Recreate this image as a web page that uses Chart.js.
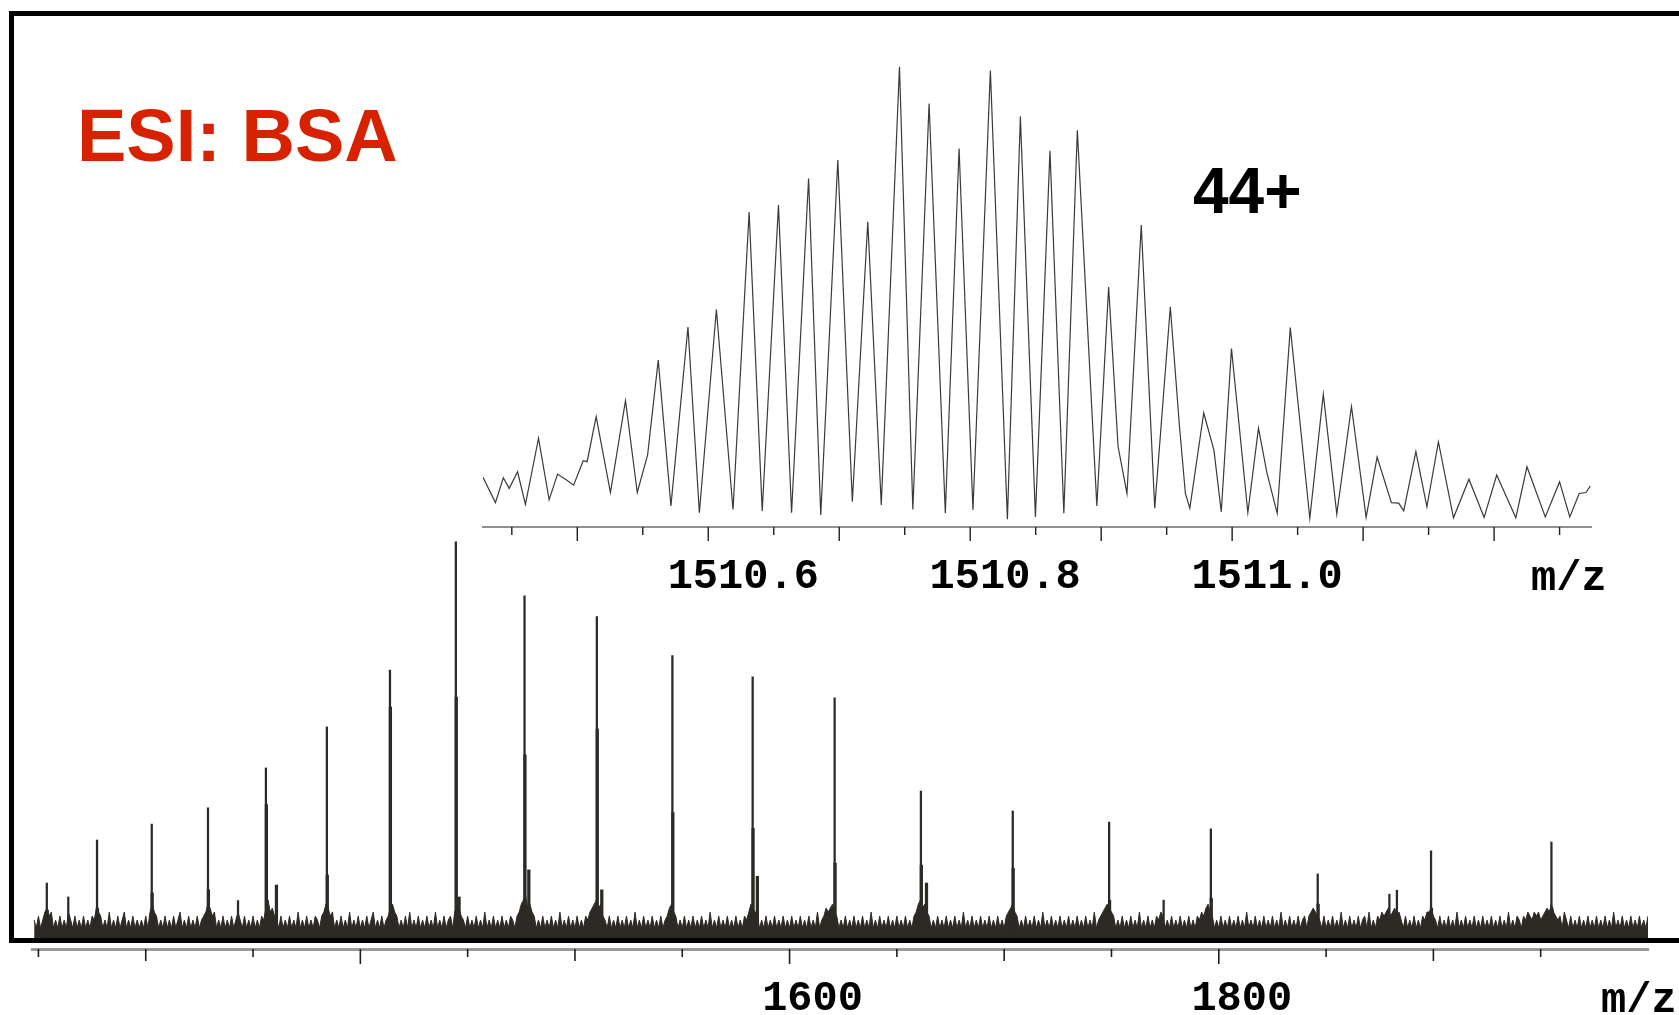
<!DOCTYPE html>
<html>
<head>
<meta charset="utf-8">
<title>ESI: BSA</title>
<script src="https://cdn.jsdelivr.net/npm/chart.js@4.4.1/dist/chart.umd.min.js"></script>
<style>
  html, body { margin: 0; padding: 0; background: #fff; overflow: hidden; }
  #page { position: relative; width: 1679px; height: 1015px; overflow: hidden; }
  .layer { position: absolute; left: 0; top: 0; width: 1679px; height: 1015px; }
  #frame {
    position: absolute; left: 9px; top: 11px; width: 1720px; height: 932px;
    box-sizing: border-box; border: 5px solid #000; pointer-events: none;
  }
  .note { position: absolute; white-space: nowrap; font-family: "Liberation Sans", Arial, sans-serif; font-weight: bold; }
  #title { left: 77px; top: 99px; font-size: 74px; line-height: 74px; color: #d72200; }
  #charge { left: 1193px; top: 159px; font-size: 64px; line-height: 64px; color: #000; }
  .mz { position: absolute; font-family: "Liberation Mono", monospace; font-weight: bold; font-size: 42px; line-height: 42px; color: #000; }
  #mzMain { left: 1601px; top: 980px; }
  #mzInset { left: 1531px; top: 558px; }
</style>
</head>
<body>
<div id="page">
  <canvas id="mainChart" class="layer" width="1679" height="1015"></canvas>
  <div id="frame"></div>
  <canvas id="insetChart" class="layer" width="1679" height="1015"></canvas>
  <div class="note" id="title">ESI: BSA</div>
  <div class="note" id="charge">44+</div>
  <div class="mz" id="mzMain">m/z</div>
  <div class="mz" id="mzInset">m/z</div>
</div>

<script>
// Main spectrum - charge state peaks (m/z, % of base peak)
const peakMz = [1253.9, 1263.9, 1277.3, 1302.8, 1329.0, 1343.0, 1356.0, 1384.4, 1413.8, 1444.5,
                1476.5, 1510.2, 1545.4, 1582.8, 1621.0, 1661.2, 1704.0, 1748.9, 1774.3, 1796.3,
                1846.1, 1879.5, 1883.0, 1898.9, 1955.0];
const peakHeight = [14.3, 10.8, 25.1, 29.1, 33.2, 9.9, 43.2, 53.5, 67.8, 100,
                    86.4, 81.2, 71.4, 66.1, 60.8, 37.4, 32.4, 29.6, 10, 27.9,
                    16.6, 11.5, 12.5, 22.4, 24.6];

// thicker lines at the foot of each peak (adducts)
const shoulderMz = [1254.1, 1277.5, 1303.0, 1329.2, 1356.2, 1360.9, 1384.6, 1414.0, 1444.7, 1446.0,
                    1476.7, 1478.5, 1510.4, 1512.5, 1545.6, 1583.0, 1585.0, 1621.2, 1661.4, 1663.8,
                    1704.2, 1749.1, 1796.5, 1846.3, 1899.1, 1955.2];
const shoulderHeight = [7.5, 8, 11.8, 12.6, 34, 13.8, 16.3, 58.5, 61, 10.8,
                        46.5, 17.6, 53, 12.6, 32, 28, 16, 19.3, 18.8, 14.3,
                        18, 10, 10.5, 9, 8, 8];

// Baseline noise, read every 1 m/z from 1248 to 2000 (one row = 50 m/z)
const noiseStart = 1248;
const noiseStep = 1;
const noiseLevel = [
  5,3,6,3,5,7,8,6,7,3, 5,3,6,3,5,3,7,5,3,6, 3,5,3,6,3,5,3,6,5,8, 7,6,3,5,3,7,3,5,3,6, 3,5,7,3,5,3,6,3,5,3,
  5,3,6,3,7,9,7,6,3,5, 3,6,3,5,3,6,3,5,7,3, 5,3,6,3,5,3,6,3,5,6, 7,9,8,6,7,3,5,3,6,3, 5,3,6,3,5,7,5,3,6,3,
  5,3,6,3,5,3,6,5,8,10, 7,8,6,5,3,6,3,5,3,6, 3,5,3,7,3,5,3,6,3,5, 3,6,5,3,6,7,9,8,6,7, 3,5,3,6,3,5,3,7,3,5,
  3,6,3,5,3,6,3,5,7,3, 5,3,6,3,5,6,8,9,7,6, 3,5,3,6,3,7,3,5,3,6, 3,5,3,6,3,5,3,7,3,5, 3,6,3,5,6,3,7,9,8,6,
  5,3,6,3,5,3,6,3,5,3, 7,3,5,3,6,3,5,3,6,3, 5,3,6,5,3,6,7,9,10,11, 8,9,7,6,3,5,3,6,3,5, 3,6,3,5,3,7,3,5,3,6,
  3,5,3,6,3,5,3,6,5,7, 8,9,10,8,9,6,5,3,6,3, 5,3,6,3,5,3,6,3,5,3, 7,3,5,3,6,3,5,3,6,3, 5,3,6,3,5,6,8,9,7,6,
  3,5,3,6,3,5,3,6,3,5, 3,6,3,5,3,7,3,5,3,6, 3,5,3,6,3,5,3,6,3,5, 3,6,5,7,9,8,7,6,3,5, 3,6,3,5,3,6,3,5,3,6,
  3,5,3,6,3,5,3,6,3,5, 3,6,3,5,3,7,3,5,6,8, 7,8,9,7,6,3,5,3,6,3, 5,3,6,3,5,3,6,3,5,3, 7,3,5,3,6,3,5,3,6,3,
  5,3,6,3,5,3,6,3,5,3, 6,7,9,10,8,9,7,6,3,5, 3,6,3,5,3,6,3,5,3,6, 3,5,3,7,3,5,3,6,3,5, 3,6,3,5,3,6,3,5,3,6,
  3,5,3,6,7,8,9,7,6,3, 5,3,6,3,5,3,6,3,5,3, 7,3,5,3,6,3,5,3,6,3, 5,3,6,3,5,3,6,3,5,3, 6,3,5,3,7,3,5,6,7,8,
  9,8,7,6,3,5,3,6,3,5, 3,6,3,5,3,7,3,5,3,6, 3,5,3,6,5,7,6,3,5,3, 6,3,5,3,6,3,5,3,6,3, 5,3,6,5,7,6,8,9,7,6,
  3,5,3,6,3,5,3,6,3,5, 3,6,3,5,3,7,3,5,3,6, 3,5,3,6,3,5,3,6,3,5, 3,7,3,5,3,6,3,5,3,6, 3,5,6,3,6,7,8,7,6,5,
  3,6,3,5,3,6,3,5,3,7, 3,5,3,6,3,5,3,6,3,5, 6,3,7,3,5,3,6,5,7,6, 7,8,6,7,8,6,7,5,3,6, 3,5,3,6,3,5,3,6,5,7,
  7,8,6,5,3,6,3,5,3,6, 3,5,3,7,3,5,3,6,3,5, 3,6,3,5,3,6,3,5,3,6, 3,5,3,6,3,5,3,7,3,5, 3,6,5,3,6,5,7,6,5,7,
  6,7,5,6,7,8,7,9,7,6, 5,6,3,7,5,3,6,3,5,3, 6,3,5,3,6,3,5,3,6,3, 5,3,6,3,5,3,7,3,5,3, 6,3,5,3,6,3,5,3,6,3,
  5,3,6
];

const mainTicks = [1250, 1300, 1350, 1400, 1450, 1500, 1550, 1600, 1650, 1700, 1750, 1800, 1850, 1900, 1950];
const mainLabels = [1600, 1800];

// Inset - isotope envelope of the 44+ ion
const insetMz = [
  1510.428, 1510.4375, 1510.4435, 1510.448, 1510.4544, 1510.4604, 1510.4704, 1510.4785, 1510.4849, 1510.4918,
  1510.4972, 1510.5045, 1510.5075, 1510.5144, 1510.5253, 1510.5368, 1510.5458, 1510.5537, 1510.5618, 1510.5715,
  1510.5845, 1510.5932, 1510.6062, 1510.6189, 1510.6312, 1510.6412, 1510.6536, 1510.6636, 1510.6766, 1510.6859,
  1510.6989, 1510.7100, 1510.7218, 1510.7321, 1510.7460, 1510.7562, 1510.7686, 1510.7810, 1510.7915, 1510.8021,
  1510.8154, 1510.8284, 1510.8383, 1510.8498, 1510.8609, 1510.8715, 1510.8818, 1510.8967, 1510.9057, 1510.9129,
  1510.9197, 1510.9306, 1510.9409, 1510.9528, 1510.9596, 1510.9643, 1510.9677, 1510.9783, 1510.9861, 1510.9917,
  1510.9995, 1511.0120, 1511.0201, 1511.0266, 1511.0344, 1511.0444, 1511.0593, 1511.0696, 1511.0799, 1511.0911,
  1511.1023, 1511.1107, 1511.1216, 1511.1272, 1511.1310, 1511.1403, 1511.1487, 1511.1575, 1511.1690, 1511.1808,
  1511.1924, 1511.2020, 1511.2166, 1511.2251, 1511.2391, 1511.2500, 1511.2578, 1511.2650, 1511.2702, 1511.2734
];
const insetInt = [
  10.8, 5.3, 10.7, 8.4, 12.0, 4.9, 19.3, 5.9, 11.5, 10.2,
  9.1, 14.4, 14.2, 24.0, 7.5, 27.5, 7.5, 15.7, 36.3, 4.6,
  43.5, 3.1, 47.3, 3.8, 68.5, 3.5, 70.0, 3.1, 75.8, 2.6,
  79.8, 5.5, 66.4, 4.8, 100.1, 3.8, 92.1, 3.0, 82.3, 3.7,
  99.3, 1.7, 89.3, 2.2, 81.8, 3.0, 86.3, 4.6, 52.2, 17.5,
  7.3, 65.7, 4.1, 47.9, 22.5, 7.3, 4.1, 24.8, 16.7, 3.3,
  38.8, 3.1, 21.5, 11.7, 3.0, 43.4, 1.9, 28.9, 2.8, 26.2,
  2.1, 15.2, 5.3, 5.2, 3.5, 16.4, 4.4, 18.5, 2.0, 10.4,
  2.1, 11.3, 2.0, 13.1, 2.2, 9.8, 2.2, 7.3, 7.5, 8.9
];
const insetTicks = [1510.45, 1510.5, 1510.55, 1510.6, 1510.65, 1510.7, 1510.75, 1510.8, 1510.85,
                    1510.9, 1510.95, 1511.0, 1511.05, 1511.1, 1511.15, 1511.2, 1511.25];
const insetLabels = [1510.6, 1510.8, 1511.0];

const ink = "#2d2a25";
const labelFont = { family: "Liberation Mono", size: 42, weight: "bold" };

// Helper: tick marks under the axis line, length per value
function tickMarks(values, lengthOf, color, width) {
    return {
        id: "tickMarks",
        afterDraw(chart) {
            const scale = chart.scales.x;
            const ctx = chart.ctx;
            ctx.save();
            ctx.strokeStyle = color;
            ctx.lineWidth = width;
            values.forEach(v => {
                const px = scale.getPixelForValue(v);
                ctx.beginPath();
                ctx.moveTo(px, scale.top);
                ctx.lineTo(px, scale.top + lengthOf(v));
                ctx.stroke();
            });
            ctx.restore();
        }
    };
}

// Main Chart
const noise = noiseLevel.map((y, i) => ({ x: noiseStart + i * noiseStep, y: y }));
const peaks = peakMz.map((x, i) => ({ x: x, y: peakHeight[i] }));
const shoulders = shoulderMz.map((x, i) => ({ x: x, y: shoulderHeight[i] }));

new Chart(document.getElementById("mainChart"), {
    type: "line",
    data: {
        datasets: [
            {
                type: "bar",
                data: peaks,
                backgroundColor: ink,
                borderWidth: 0,
                barThickness: 1.6,
                grouped: false
            },
            {
                type: "bar",
                data: shoulders,
                backgroundColor: ink,
                borderWidth: 0,
                barThickness: 2.6,
                grouped: false
            },
            {
                data: noise,
                borderColor: ink,
                backgroundColor: ink,
                borderWidth: 1,
                pointRadius: 0,
                tension: 0,
                fill: "origin"
            }
        ]
    },
    options: {
        responsive: false,
        animation: false,
        events: [],
        layout: { padding: { left: 32, right: 31, top: 16, bottom: 0 } },
        plugins: { legend: { display: false }, tooltip: { enabled: false } },
        scales: {
            x: {
                type: "linear",
                min: 1247,
                max: 2000,
                offset: false,
                grid: { display: false, drawTicks: false },
                border: { display: true, color: "#9a9a9a", width: 3 },
                ticks: {
                    autoSkip: false,
                    maxRotation: 0,
                    padding: 25,
                    labelOffset: 23,
                    color: "#000",
                    font: labelFont,
                    callback: v => String(v)
                },
                afterBuildTicks: axis => { axis.ticks = mainLabels.map(v => ({ value: v })); },
                afterFit: axis => { axis.height = 66; }
            },
            y: { display: false, min: -2.26, max: 232 }
        }
    },
    plugins: [tickMarks(mainTicks, v => (v % 200 === 0 ? 15 : v % 100 === 0 ? 12 : 8), "#1e1e1e", 1.6)]
});

// Inset Chart
new Chart(document.getElementById("insetChart"), {
    type: "line",
    data: {
        datasets: [{
            data: insetMz.map((x, i) => ({ x: x, y: insetInt[i] })),
            borderColor: "#3a3a3a",
            borderWidth: 1.2,
            pointRadius: 0,
            tension: 0,
            fill: false
        }]
    },
    options: {
        responsive: false,
        animation: false,
        events: [],
        layout: { padding: { left: 483, right: 88, top: 58, bottom: 0 } },
        plugins: { legend: { display: false }, tooltip: { enabled: false } },
        scales: {
            x: {
                type: "linear",
                min: 1510.428,
                max: 1511.274,
                offset: false,
                grid: { display: false, drawTicks: false },
                border: { display: true, color: "#8f8f8f", width: 2 },
                ticks: {
                    autoSkip: false,
                    maxRotation: 0,
                    padding: 25,
                    labelOffset: 35,
                    color: "#000",
                    font: labelFont,
                    callback: v => v.toFixed(1)
                },
                afterBuildTicks: axis => { axis.ticks = insetLabels.map(v => ({ value: v })); },
                afterFit: axis => { axis.height = 488; }
            },
            y: { display: false, min: 0, max: 102 }
        }
    },
    plugins: [tickMarks(insetTicks, v => (Math.round(v * 100) % 10 === 0 ? 14 : 8), "#1e1e1e", 1.4)]
});
</script>
</body>
</html>
